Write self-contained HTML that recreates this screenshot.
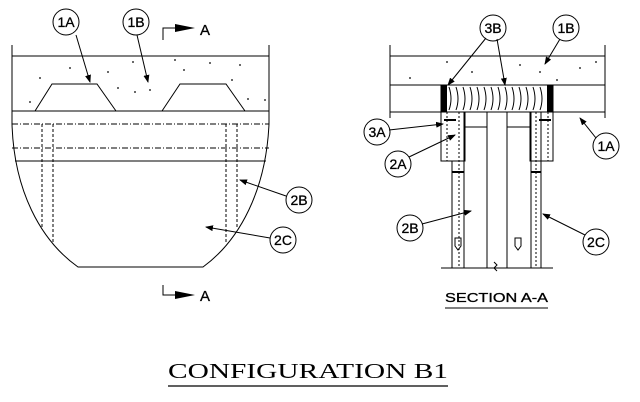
<!DOCTYPE html>
<html><head><meta charset="utf-8"><style>html,body{margin:0;padding:0;background:#fff}svg{display:block}</style></head><body>
<svg width="640" height="402" viewBox="0 0 640 402" xmlns="http://www.w3.org/2000/svg" font-family="Liberation Sans, sans-serif">
<defs><marker id="ar" markerWidth="8" markerHeight="6" refX="7" refY="3" orient="auto" markerUnits="userSpaceOnUse"><path d="M0,0 L8,3 L0,6z" fill="#000"/></marker></defs>
<g stroke="#000" stroke-width="1" fill="none">
<line x1="12" y1="45" x2="12" y2="124"/><line x1="269" y1="45" x2="269" y2="124"/>
<line x1="12" y1="56" x2="269" y2="56"/>
<line x1="12" y1="111" x2="269" y2="111"/>
<polyline points="35,111 52,84 97,84 116,111"/>
<polyline points="162,111 180,84 226,84 245,111"/>
<line x1="12" y1="124" x2="269" y2="124" stroke-dasharray="6,2,1,2"/>
<line x1="12" y1="148" x2="269" y2="148" stroke-dasharray="6,2,1,2"/>
<line x1="15" y1="161" x2="266" y2="161"/>
<path d="M12,124 C14,190 40,240 78,267 L203,267 C240,240 266,190 269,124"/>
<g stroke-dasharray="3,2"><line x1="42" y1="124" x2="42" y2="228"/><line x1="53" y1="124" x2="53" y2="243"/><line x1="226" y1="124" x2="226" y2="243"/><line x1="237" y1="124" x2="237" y2="228"/></g>
<polyline points="163,40 163,28 175,28"/><polyline points="163,285 163,295 175,295"/>
<line x1="76" y1="35" x2="90" y2="82" marker-end="url(#ar)"/>
<line x1="137" y1="35" x2="148" y2="82" marker-end="url(#ar)"/>
<line x1="286" y1="196" x2="240" y2="180" marker-end="url(#ar)"/>
<line x1="270" y1="238" x2="206" y2="227" marker-end="url(#ar)"/>
<circle cx="66" cy="22" r="13"/><circle cx="136" cy="22" r="13"/>
<circle cx="299" cy="200" r="13"/><circle cx="283" cy="240" r="13"/>
<line x1="390" y1="45" x2="390" y2="118"/><line x1="605" y1="45" x2="605" y2="118"/>
<line x1="390" y1="56" x2="605" y2="56"/>
<line x1="390" y1="85" x2="605" y2="85"/>
<line x1="390" y1="112" x2="605" y2="112"/>
<rect x="441" y="85" width="112" height="27" fill="#fff"/>
<path d="M449,87 q4,12 0,23 M456,87 q4,12 0,23 M463,87 q4,12 0,23 M470,87 q4,12 0,23 M477,87 q4,12 0,23 M484,87 q4,12 0,23 M491,87 q4,12 0,23 M498,87 q4,12 0,23 M505,87 q4,12 0,23 M512,87 q4,12 0,23 M519,87 q4,12 0,23 M526,87 q4,12 0,23 M533,87 q4,12 0,23 M540,87 q4,12 0,23"/>
<rect x="441" y="112" width="24" height="49"/><rect x="530" y="112" width="23" height="49"/>
<line x1="452" y1="161" x2="452" y2="268"/><line x1="464" y1="112" x2="464" y2="268"/>
<line x1="459" y1="112" x2="459" y2="268" stroke-dasharray="2,2"/>
<line x1="531" y1="112" x2="531" y2="268"/><line x1="541" y1="112" x2="541" y2="268"/>
<line x1="536" y1="112" x2="536" y2="268" stroke-dasharray="2,2"/>
<line x1="447" y1="112" x2="447" y2="161" stroke-dasharray="2,2"/><line x1="548" y1="112" x2="548" y2="161" stroke-dasharray="2,2"/>
<line x1="487" y1="112" x2="487" y2="268"/><line x1="507" y1="112" x2="507" y2="268"/>
<line x1="465" y1="127" x2="487" y2="127"/><line x1="507" y1="127" x2="531" y2="127"/>
<line x1="441" y1="268" x2="553" y2="268"/>
<path d="M494,262 l3,3 l-3,3 l3,3"/>
<path d="M455,238 h6 v8 l-3,4 l-3,-4z M515,238 h6 v8 l-3,4 l-3,-4z"/>
<line x1="444" y1="120" x2="456" y2="120" stroke-width="2"/><line x1="539" y1="120" x2="551" y2="120" stroke-width="2"/>
<line x1="452" y1="172" x2="464" y2="172" stroke-width="2"/><line x1="531" y1="172" x2="541" y2="172" stroke-width="2"/>
<line x1="486" y1="38" x2="448" y2="85" marker-end="url(#ar)"/>
<line x1="497" y1="39" x2="505" y2="85" marker-end="url(#ar)"/>
<line x1="560" y1="39" x2="545" y2="64" marker-end="url(#ar)"/>
<line x1="596" y1="138" x2="580" y2="118" marker-end="url(#ar)"/>
<line x1="389" y1="130" x2="443" y2="124" marker-end="url(#ar)"/>
<line x1="409" y1="157" x2="455" y2="135" marker-end="url(#ar)"/>
<line x1="422" y1="224" x2="471" y2="211" marker-end="url(#ar)"/>
<line x1="585" y1="235" x2="543" y2="214" marker-end="url(#ar)"/>
<circle cx="493" cy="28" r="13"/><circle cx="566" cy="28" r="13"/>
<circle cx="377" cy="132" r="13"/><circle cx="398" cy="164" r="13"/>
<circle cx="606" cy="146" r="13"/><circle cx="410" cy="228" r="13"/><circle cx="596" cy="242" r="13"/>
<line x1="445" y1="308" x2="548" y2="308"/>
<line x1="168" y1="386" x2="448" y2="386" stroke-width="1.3"/>
</g>
<rect x="441" y="85" width="6" height="27" fill="#000"/><rect x="547" y="85" width="6" height="27" fill="#000"/>
<path d="M175,24 L195,28 L175,32z M175,291 L195,295 L175,299z" fill="#000"/>
<g fill="#000" font-size="14" text-anchor="middle" stroke="#000" stroke-width="0.3">
<text x="205" y="35" font-size="15">A</text><text x="205" y="301" font-size="15">A</text>
<text x="66" y="27">1A</text><text x="136" y="27">1B</text>
<text x="299" y="205">2B</text><text x="283" y="245">2C</text>
<text x="493" y="33">3B</text><text x="566" y="33">1B</text>
<text x="377" y="137">3A</text><text x="398" y="169">2A</text>
<text x="606" y="151">1A</text><text x="410" y="233">2B</text><text x="596" y="247">2C</text>
<text x="496.5" y="302" font-size="13" textLength="103" lengthAdjust="spacingAndGlyphs">SECTION A-A</text>
</g>
<text x="308" y="378" fill="#000" text-anchor="middle" font-family="Liberation Serif, serif" font-size="21" textLength="280" lengthAdjust="spacingAndGlyphs">CONFIGURATION  B1</text>
<g fill="#000">
<circle cx="40" cy="78" r="0.9"/><circle cx="70" cy="68" r="0.9"/><circle cx="108" cy="72" r="0.9"/><circle cx="133" cy="62" r="0.9"/><circle cx="175" cy="60" r="0.9"/><circle cx="210" cy="63" r="0.9"/><circle cx="240" cy="65" r="0.9"/><circle cx="118" cy="88" r="0.9"/><circle cx="135" cy="92" r="0.9"/><circle cx="150" cy="90" r="0.9"/><circle cx="232" cy="80" r="0.9"/><circle cx="248" cy="99" r="0.9"/><circle cx="30" cy="102" r="0.9"/><circle cx="184" cy="70" r="0.9"/><circle cx="265" cy="100" r="0.9"/>
<circle cx="447" cy="62" r="0.9"/><circle cx="472" cy="72" r="0.9"/><circle cx="520" cy="65" r="0.9"/><circle cx="540" cy="72" r="0.9"/><circle cx="580" cy="68" r="0.9"/><circle cx="596" cy="62" r="0.9"/><circle cx="410" cy="78" r="0.9"/><circle cx="557" cy="80" r="0.9"/>
</g>
</svg>
</body></html>
